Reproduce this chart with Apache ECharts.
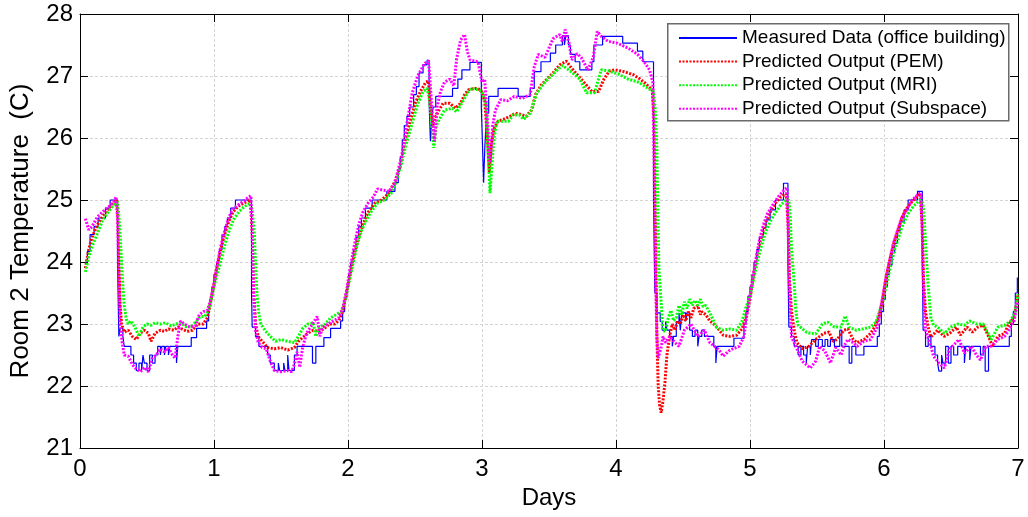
<!DOCTYPE html>
<html>
<head>
<meta charset="utf-8">
<title>Room 2 Temperature</title>
<script src="https://cdn.jsdelivr.net/npm/echarts@6/dist/echarts.min.js"></script>
<style>
  html, body { margin: 0; padding: 0; background: #fff; }
  #chart { width: 1028px; height: 517px; }
</style>
</head>
<body>
<div id="chart"></div>
<script>
// Axis ticks
const dayTicks = [0, 1, 2, 3, 4, 5, 6, 7];
const tempTicks = [21, 22, 23, 24, 25, 26, 27, 28];

// Series names
const seriesNames = [
  'Measured Data (office building)',
  'Predicted Output (PEM)',
  'Predicted Output (MRI)',
  'Predicted Output (Subspace)'
];

// Measured room temperature, [day, degC]; sensor is quantised, drawn as steps
const measured = [[0.04,24.0],[0.055,24.17],[0.075,24.44],[0.105,24.57],[0.135,24.71],[0.19,24.87],[0.225,25.0],[0.28,24.0],[0.29,22.8],[0.30,22.93],[0.32,22.8],[0.33,22.64],[0.38,22.5],[0.40,22.37],[0.42,22.25],[0.44,22.37],[0.46,22.25],[0.47,22.5],[0.48,22.37],[0.50,22.25],[0.52,22.5],[0.54,22.37],[0.56,22.5],[0.58,22.64],[0.60,22.5],[0.61,22.64],[0.63,22.5],[0.64,22.64],[0.66,22.5],[0.67,22.64],[0.72,22.37],[0.73,22.64],[0.83,22.78],[0.87,22.93],[0.945,23.05],[0.96,23.2],[0.97,23.4],[0.985,23.6],[1.0,23.8],[1.02,24.0],[1.04,24.2],[1.06,24.44],[1.08,24.57],[1.10,24.71],[1.125,24.87],[1.16,25.0],[1.28,23.5],[1.285,22.95],[1.31,22.8],[1.335,22.64],[1.40,22.5],[1.42,22.37],[1.45,22.25],[1.48,22.37],[1.49,22.25],[1.52,22.37],[1.53,22.25],[1.55,22.5],[1.56,22.25],[1.60,22.5],[1.62,22.64],[1.735,22.37],[1.76,22.64],[1.82,22.78],[1.87,22.93],[1.945,23.05],[1.96,23.2],[1.975,23.4],[1.99,23.6],[2.005,23.8],[2.02,24.0],[2.04,24.2],[2.06,24.4],[2.08,24.57],[2.10,24.71],[2.13,24.87],[2.18,25.0],[2.29,25.14],[2.35,25.28],[2.375,25.5],[2.39,25.7],[2.405,25.97],[2.42,26.2],[2.44,26.35],[2.46,26.5],[2.49,26.7],[2.51,26.83],[2.53,27.05],[2.56,27.18],[2.59,27.25],[2.605,26.6],[2.615,25.95],[2.625,26.3],[2.635,26.5],[2.655,26.67],[2.78,26.8],[2.82,26.95],[2.85,27.1],[2.91,27.22],[2.995,26.5],[3.005,25.8],[3.012,25.28],[3.022,25.9],[3.035,26.4],[3.05,26.67],[3.12,26.8],[3.27,26.67],[3.36,26.8],[3.39,27.07],[3.44,27.23],[3.51,27.37],[3.55,27.5],[3.60,27.65],[3.615,27.5],[3.625,27.65],[3.645,27.5],[3.66,27.35],[3.695,27.23],[3.73,27.1],[3.82,27.23],[3.835,27.5],[3.90,27.64],[4.05,27.53],[4.16,27.4],[4.20,27.23],[4.28,25.0],[4.29,23.5],[4.305,23.18],[4.33,23.04],[4.345,22.9],[4.37,23.04],[4.38,22.9],[4.40,22.8],[4.42,22.64],[4.43,22.8],[4.45,23.04],[4.47,23.18],[4.48,22.9],[4.49,23.18],[4.52,23.04],[4.53,23.18],[4.55,22.9],[4.57,22.8],[4.59,22.9],[4.61,22.64],[4.62,22.8],[4.64,22.9],[4.66,22.8],[4.73,22.64],[4.745,22.37],[4.755,22.64],[4.88,22.77],[4.955,23.0],[4.97,23.2],[4.985,23.45],[5.0,23.6],[5.015,23.8],[5.03,24.0],[5.05,24.2],[5.07,24.4],[5.10,24.55],[5.12,24.68],[5.15,24.84],[5.19,25.0],[5.25,25.27],[5.283,24.0],[5.29,22.95],[5.31,22.8],[5.33,22.64],[5.36,22.5],[5.38,22.64],[5.40,22.5],[5.42,22.37],[5.43,22.64],[5.45,22.5],[5.46,22.75],[5.49,22.64],[5.51,22.75],[5.54,22.64],[5.56,22.75],[5.58,22.64],[5.60,22.75],[5.63,22.64],[5.67,22.9],[5.685,22.64],[5.74,22.37],[5.76,22.64],[5.79,22.5],[5.85,22.64],[5.95,22.8],[5.965,23.0],[5.98,23.2],[5.995,23.4],[6.01,23.6],[6.025,23.8],[6.04,23.95],[6.06,24.15],[6.08,24.3],[6.10,24.5],[6.12,24.65],[6.15,24.84],[6.18,25.0],[6.25,25.14],[6.286,24.0],[6.292,22.9],[6.31,22.64],[6.33,22.8],[6.35,22.64],[6.38,22.5],[6.40,22.37],[6.41,22.24],[6.43,22.5],[6.44,22.37],[6.46,22.64],[6.48,22.37],[6.50,22.64],[6.52,22.5],[6.55,22.64],[6.60,22.37],[6.61,22.64],[6.64,22.42],[6.65,22.64],[6.72,22.5],[6.74,22.64],[6.755,22.24],[6.78,22.64],[6.935,22.8],[6.95,23.0],[6.965,23.2],[6.98,23.5],[6.995,23.75],[7.0,23.75]];

// PEM model prediction, [day, degC]
const predictedPEM = [[0.04,23.9],[0.065,24.2],[0.09,24.4],[0.13,24.6],[0.17,24.74],[0.21,24.85],[0.25,24.95],[0.275,25.0],[0.285,24.6],[0.29,24.0],[0.30,23.3],[0.31,23.0],[0.33,22.87],[0.36,22.9],[0.39,22.8],[0.42,22.75],[0.45,22.85],[0.48,22.9],[0.51,22.85],[0.53,22.72],[0.56,22.85],[0.60,22.9],[0.63,22.88],[0.66,22.92],[0.70,22.9],[0.73,22.95],[0.76,22.92],[0.80,22.88],[0.84,22.9],[0.88,23.0],[0.92,23.0],[0.95,23.1],[0.97,23.3],[1.0,23.65],[1.02,23.9],[1.05,24.2],[1.08,24.45],[1.11,24.65],[1.14,24.8],[1.18,24.9],[1.22,24.95],[1.27,25.0],[1.285,24.5],[1.295,23.6],[1.31,23.0],[1.33,22.8],[1.36,22.72],[1.40,22.62],[1.45,22.6],[1.50,22.62],[1.55,22.58],[1.60,22.62],[1.63,22.72],[1.66,22.78],[1.70,22.85],[1.74,22.9],[1.78,22.88],[1.82,22.92],[1.86,23.0],[1.90,23.0],[1.93,23.05],[1.96,23.2],[1.99,23.5],[2.02,23.85],[2.05,24.15],[2.08,24.4],[2.11,24.6],[2.15,24.8],[2.20,24.95],[2.25,25.0],[2.30,25.1],[2.35,25.3],[2.39,25.55],[2.42,25.9],[2.46,26.24],[2.50,26.55],[2.54,26.75],[2.58,26.9],[2.60,26.92],[2.615,26.5],[2.635,26.2],[2.655,26.35],[2.68,26.45],[2.71,26.56],[2.76,26.56],[2.80,26.48],[2.84,26.56],[2.87,26.7],[2.90,26.78],[2.95,26.8],[2.99,26.78],[3.02,26.6],[3.04,26.0],[3.055,25.45],[3.07,25.9],[3.09,26.15],[3.12,26.27],[3.16,26.3],[3.21,26.35],[3.25,26.4],[3.29,26.38],[3.33,26.35],[3.37,26.45],[3.40,26.7],[3.44,26.85],[3.48,26.94],[3.53,27.05],[3.58,27.18],[3.63,27.24],[3.66,27.15],[3.70,27.05],[3.74,26.95],[3.78,26.85],[3.82,26.75],[3.87,26.75],[3.91,26.95],[3.95,27.08],[3.99,27.1],[4.06,27.07],[4.13,27.02],[4.18,26.95],[4.22,26.88],[4.27,26.77],[4.285,26.3],[4.295,24.5],[4.305,22.8],[4.315,22.0],[4.325,21.7],[4.337,21.57],[4.35,21.75],[4.365,22.05],[4.38,22.5],[4.40,22.8],[4.42,23.0],[4.44,22.9],[4.46,23.05],[4.48,23.0],[4.50,23.15],[4.52,23.05],[4.54,23.2],[4.56,23.1],[4.58,23.25],[4.61,23.3],[4.63,23.15],[4.64,23.2],[4.67,23.15],[4.70,23.05],[4.73,23.0],[4.76,22.93],[4.80,22.82],[4.85,22.8],[4.90,22.82],[4.94,22.92],[4.97,23.1],[5.0,23.4],[5.03,23.85],[5.06,24.2],[5.09,24.45],[5.12,24.65],[5.15,24.8],[5.19,24.95],[5.23,25.05],[5.27,25.1],[5.285,24.6],[5.295,23.7],[5.31,23.2],[5.33,22.9],[5.35,22.7],[5.39,22.6],[5.44,22.64],[5.49,22.75],[5.55,22.85],[5.59,22.87],[5.62,22.72],[5.65,22.75],[5.70,22.9],[5.73,22.92],[5.77,22.75],[5.80,22.7],[5.85,22.75],[5.90,22.85],[5.93,22.95],[5.96,23.1],[5.99,23.4],[6.02,23.8],[6.05,24.1],[6.08,24.35],[6.11,24.55],[6.14,24.75],[6.18,24.9],[6.22,25.0],[6.27,25.1],[6.285,24.6],[6.295,23.7],[6.31,23.2],[6.33,22.95],[6.35,22.79],[6.40,22.9],[6.45,22.8],[6.49,22.85],[6.54,22.95],[6.57,22.82],[6.62,22.95],[6.66,22.87],[6.70,22.95],[6.74,22.98],[6.77,22.85],[6.81,22.64],[6.85,22.8],[6.90,22.85],[6.93,23.0],[6.97,23.1],[7.0,23.48]];

// MRI model prediction, [day, degC]
const predictedMRI = [[0.04,23.84],[0.065,24.08],[0.09,24.25],[0.13,24.46],[0.17,24.68],[0.205,24.79],[0.25,24.92],[0.28,24.97],[0.29,24.75],[0.30,24.4],[0.31,24.0],[0.32,23.6],[0.33,23.3],[0.345,23.08],[0.36,23.0],[0.38,23.05],[0.41,22.95],[0.44,22.8],[0.47,22.95],[0.50,23.0],[0.53,22.98],[0.56,23.02],[0.60,23.0],[0.64,23.02],[0.68,22.97],[0.72,23.0],[0.75,23.02],[0.79,22.96],[0.83,22.95],[0.87,23.05],[0.90,23.12],[0.93,23.12],[0.96,23.22],[0.98,23.4],[1.0,23.6],[1.03,23.85],[1.06,24.1],[1.09,24.35],[1.12,24.55],[1.15,24.7],[1.19,24.82],[1.23,24.9],[1.27,24.95],[1.285,24.85],[1.30,24.5],[1.31,24.0],[1.32,23.5],[1.335,23.15],[1.35,23.0],[1.38,22.9],[1.42,22.8],[1.46,22.72],[1.50,22.75],[1.55,22.72],[1.60,22.7],[1.63,22.8],[1.66,22.92],[1.70,23.0],[1.74,23.02],[1.76,22.8],[1.79,22.95],[1.83,23.0],[1.87,23.1],[1.91,23.15],[1.95,23.2],[1.98,23.4],[2.01,23.7],[2.04,24.0],[2.07,24.3],[2.10,24.5],[2.13,24.65],[2.17,24.8],[2.22,24.95],[2.27,25.0],[2.32,25.1],[2.36,25.3],[2.40,25.6],[2.44,25.95],[2.48,26.25],[2.52,26.55],[2.56,26.75],[2.59,26.8],[2.61,26.6],[2.625,26.2],[2.64,25.84],[2.66,26.2],[2.68,26.3],[2.72,26.45],[2.78,26.48],[2.81,26.42],[2.84,26.53],[2.89,26.72],[2.92,26.8],[2.97,26.78],[3.0,26.75],[3.03,26.55],[3.045,25.8],[3.06,25.11],[3.075,25.6],[3.09,26.0],[3.11,26.27],[3.20,26.27],[3.23,26.37],[3.28,26.37],[3.31,26.3],[3.36,26.4],[3.41,26.73],[3.47,26.9],[3.53,27.03],[3.60,27.17],[3.66,27.08],[3.73,26.95],[3.78,26.73],[3.84,26.73],[3.89,27.1],[3.95,27.08],[4.02,27.03],[4.09,26.95],[4.17,26.9],[4.24,26.8],[4.28,26.75],[4.295,26.4],[4.305,25.8],[4.313,24.74],[4.32,23.9],[4.337,23.34],[4.35,22.9],[4.37,22.88],[4.39,23.1],[4.41,23.22],[4.43,23.05],[4.45,23.1],[4.47,23.3],[4.49,23.15],[4.51,23.36],[4.53,23.25],[4.55,23.4],[4.57,23.3],[4.59,23.38],[4.61,23.3],[4.63,23.4],[4.65,23.28],[4.67,23.3],[4.70,23.18],[4.75,22.95],[4.80,22.9],[4.85,22.92],[4.90,22.9],[4.94,23.04],[4.97,23.27],[5.0,23.45],[5.03,23.75],[5.06,24.05],[5.09,24.3],[5.12,24.5],[5.15,24.65],[5.19,24.8],[5.23,24.92],[5.27,25.0],[5.29,25.0],[5.30,24.74],[5.31,24.2],[5.33,23.66],[5.34,23.28],[5.35,23.07],[5.36,22.98],[5.42,22.87],[5.45,22.85],[5.49,22.84],[5.54,23.0],[5.58,23.03],[5.63,22.95],[5.68,22.95],[5.71,23.13],[5.74,22.95],[5.79,22.9],[5.84,22.92],[5.90,22.95],[5.94,23.03],[5.96,23.16],[5.99,23.35],[6.02,23.65],[6.05,23.95],[6.08,24.2],[6.11,24.4],[6.14,24.6],[6.18,24.78],[6.22,24.9],[6.27,25.0],[6.29,24.95],[6.30,24.7],[6.31,24.3],[6.33,23.6],[6.35,23.1],[6.37,22.98],[6.40,22.95],[6.45,22.85],[6.50,22.95],[6.55,23.0],[6.60,22.98],[6.64,23.05],[6.69,23.0],[6.74,23.0],[6.80,22.75],[6.85,22.95],[6.90,22.98],[6.945,23.05],[6.98,23.2],[7.0,23.48]];

// Subspace model prediction, [day, degC]
const predictedSubspace = [[0.04,24.7],[0.065,24.52],[0.09,24.57],[0.13,24.73],[0.17,24.81],[0.22,24.9],[0.25,24.97],[0.27,25.05],[0.28,24.7],[0.29,23.8],[0.30,23.0],[0.315,22.7],[0.33,22.5],[0.36,22.48],[0.39,22.35],[0.42,22.27],[0.45,22.23],[0.48,22.3],[0.51,22.23],[0.54,22.45],[0.57,22.5],[0.60,22.6],[0.63,22.55],[0.66,22.62],[0.69,22.5],[0.71,22.45],[0.73,22.8],[0.75,23.05],[0.78,23.0],[0.82,22.95],[0.86,22.97],[0.89,23.15],[0.92,23.2],[0.95,23.22],[0.97,23.35],[1.0,23.65],[1.02,23.9],[1.05,24.25],[1.08,24.5],[1.11,24.72],[1.14,24.85],[1.18,24.92],[1.22,24.98],[1.26,25.05],[1.275,25.07],[1.285,24.5],[1.295,23.5],[1.31,22.9],[1.33,22.7],[1.36,22.62],[1.39,22.6],[1.42,22.4],[1.45,22.25],[1.50,22.23],[1.55,22.25],[1.58,22.23],[1.60,22.35],[1.62,22.55],[1.64,22.3],[1.66,22.6],[1.69,22.85],[1.72,22.95],[1.75,23.05],[1.77,23.12],[1.79,22.8],[1.81,22.95],[1.85,23.0],[1.89,23.05],[1.93,23.1],[1.96,23.25],[1.99,23.55],[2.02,23.95],[2.05,24.3],[2.08,24.6],[2.11,24.8],[2.15,24.95],[2.19,25.05],[2.22,25.18],[2.26,25.16],[2.31,25.14],[2.35,25.28],[2.40,25.7],[2.44,26.24],[2.48,26.73],[2.52,27.0],[2.57,27.2],[2.60,27.25],[2.61,27.0],[2.625,26.5],[2.645,25.95],[2.665,26.5],[2.69,26.75],[2.72,26.9],[2.76,26.95],[2.79,26.84],[2.81,27.27],[2.84,27.58],[2.87,27.67],[2.89,27.4],[2.91,27.26],[2.97,27.23],[3.0,26.9],[3.02,26.95],[3.04,26.3],[3.06,25.6],[3.08,26.2],[3.10,26.45],[3.14,26.62],[3.19,26.6],[3.24,26.67],[3.30,26.64],[3.36,26.7],[3.39,27.15],[3.42,27.35],[3.47,27.3],[3.53,27.6],[3.58,27.67],[3.60,27.55],[3.62,27.75],[3.65,27.53],[3.67,27.26],[3.71,27.36],[3.74,27.3],[3.79,27.1],[3.83,27.3],[3.86,27.72],[3.89,27.64],[3.94,27.56],[4.01,27.53],[4.09,27.45],[4.16,27.35],[4.21,27.23],[4.25,27.1],[4.275,26.9],[4.285,25.5],[4.295,23.8],[4.305,22.8],[4.315,22.45],[4.325,22.42],[4.34,22.65],[4.35,22.8],[4.37,22.7],[4.40,22.8],[4.44,22.7],[4.47,22.64],[4.51,22.9],[4.56,23.0],[4.61,22.8],[4.66,22.9],[4.70,22.7],[4.77,22.58],[4.80,22.48],[4.85,22.58],[4.92,22.64],[4.955,22.8],[4.98,23.2],[5.01,23.6],[5.04,24.0],[5.07,24.35],[5.10,24.6],[5.13,24.78],[5.17,24.92],[5.21,25.05],[5.25,25.15],[5.275,25.2],[5.285,24.5],[5.295,23.5],[5.31,22.79],[5.35,22.6],[5.39,22.4],[5.45,22.29],[5.49,22.4],[5.52,22.64],[5.56,22.56],[5.60,22.37],[5.64,22.62],[5.68,22.5],[5.70,22.64],[5.73,22.75],[5.77,22.7],[5.80,22.64],[5.85,22.72],[5.90,22.75],[5.95,22.95],[5.98,23.3],[6.01,23.7],[6.04,24.0],[6.07,24.3],[6.10,24.5],[6.13,24.7],[6.17,24.85],[6.21,25.0],[6.25,25.08],[6.275,25.12],[6.285,24.5],[6.295,23.5],[6.31,22.9],[6.35,22.64],[6.37,22.48],[6.41,22.37],[6.45,22.29],[6.49,22.6],[6.52,22.66],[6.56,22.75],[6.60,22.53],[6.65,22.64],[6.69,22.5],[6.72,22.42],[6.76,22.64],[6.80,22.64],[6.85,22.75],[6.90,22.8],[6.93,22.9],[6.97,23.05],[7.0,23.37]];

const FONT = '"Liberation Sans", Arial, Helvetica, sans-serif';

const chart = echarts.init(document.getElementById('chart'), null, { renderer: 'canvas' });

const gridLine = { show: true, lineStyle: { color: '#d4d4d4', width: 1, type: [3, 2] } };
const boxLine = { show: true, onZero: false, lineStyle: { color: '#000', width: 1 } };
const inTick = { show: true, inside: true, length: 8, lineStyle: { color: '#000', width: 1 } };

const dotted = (color) => ({ color: color, width: 3, type: [2, 1.5] });

chart.setOption({
  animation: false,
  backgroundColor: '#fff',
  textStyle: { fontFamily: FONT },
  grid: { left: 79, right: 10, top: 14, bottom: 69, containLabel: false },
  // legend frame, drawn under the legend entries
  graphic: [{
    type: 'rect', left: 667, top: 23, z: 20,
    shape: { width: 341, height: 97 },
    style: { fill: '#fff', stroke: '#6a6a6a', lineWidth: 1.5 }
  }],
  legend: {
    orient: 'vertical',
    left: 667,
    top: 23,
    z: 30,
    padding: [5, 2, 2, 11],
    itemWidth: 58,
    itemHeight: 14,
    itemGap: 3.6,
    itemStyle: { opacity: 0 },
    textStyle: { fontFamily: FONT, fontSize: 19, color: '#000', lineHeight: 20 },
    data: seriesNames
  },
  xAxis: [
    {
      type: 'value', min: dayTicks[0], max: dayTicks[dayTicks.length - 1], interval: 1,
      name: 'Days', nameLocation: 'middle', nameGap: 37,
      nameTextStyle: { fontFamily: FONT, fontSize: 24, color: '#000' },
      axisLine: boxLine, axisTick: inTick, splitLine: gridLine,
      axisLabel: { fontFamily: FONT, fontSize: 24, color: '#000', margin: 9 }
    },
    {
      type: 'value', position: 'top', min: dayTicks[0], max: dayTicks[dayTicks.length - 1], interval: 1,
      axisLine: boxLine, axisTick: inTick, splitLine: { show: false }, axisLabel: { show: false }
    }
  ],
  yAxis: [
    {
      type: 'value', min: tempTicks[0], max: tempTicks[tempTicks.length - 1], interval: 1,
      name: 'Room 2 Temperature  (C)', nameLocation: 'middle', nameGap: 46,
      nameTextStyle: { fontFamily: FONT, fontSize: 26, color: '#000' },
      axisLine: boxLine, axisTick: inTick, splitLine: gridLine,
      axisLabel: { fontFamily: FONT, fontSize: 24, color: '#000', margin: 7 }
    },
    {
      type: 'value', position: 'right', min: tempTicks[0], max: tempTicks[tempTicks.length - 1], interval: 1,
      axisLine: boxLine, axisTick: inTick, splitLine: { show: false }, axisLabel: { show: false }
    }
  ],
  series: [
    {
      name: seriesNames[0], type: 'line', step: 'end', data: measured,
      showSymbol: false, symbol: 'none', color: '#0000ff',
      lineStyle: { color: '#0000ff', width: 1.2 }, z: 2
    },
    {
      name: seriesNames[1], type: 'line', data: predictedPEM,
      showSymbol: false, symbol: 'none', color: '#ff0000',
      lineStyle: dotted('#ff0000'), z: 3
    },
    {
      name: seriesNames[2], type: 'line', data: predictedMRI,
      showSymbol: false, symbol: 'none', color: '#00ff00',
      lineStyle: dotted('#00ff00'), z: 4
    },
    {
      name: seriesNames[3], type: 'line', data: predictedSubspace,
      showSymbol: false, symbol: 'none', color: '#ff00ff',
      lineStyle: dotted('#ff00ff'), z: 5
    }
  ]
});
</script>
</body>
</html>
